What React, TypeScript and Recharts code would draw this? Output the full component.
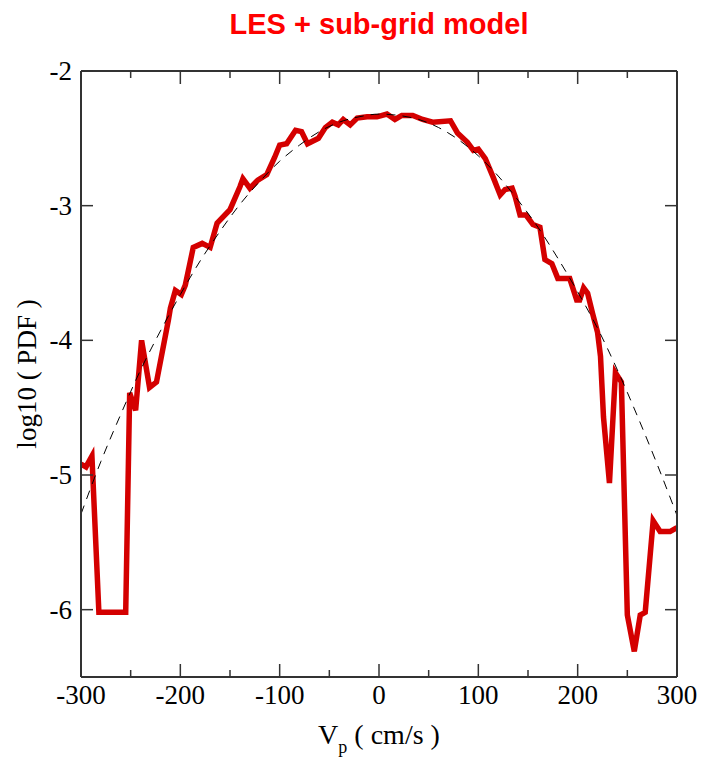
import { Line, LineChart, XAxis, YAxis } from 'recharts';

// simulated PDF (red)
const velocity = [
    -300, -295, -289, -282, -258, -255, -251, -245, -239, -231, -224, -212, -210, -205, -199, -195,
    -187, -178, -170, -163, -150, -140, -137, -130, -122, -113, -105, -100, -93, -84, -78, -72,
    -61, -54, -47, -41, -36, -29, -22, -12, -2, 8, 16, 23, 34, 44, 54, 72,
    79, 89, 95, 100, 107, 115, 122, 127, 134, 137, 142, 148, 155, 162, 167, 174,
    180, 192, 199, 202, 206, 210, 215, 220, 223, 226, 232, 238, 244, 250, 257, 263,
    268, 276, 283, 293, 300,
];
const logPdf = [
    -4.92, -4.94, -4.86, -6.02, -6.02, -6.02, -4.39, -4.52, -4.0, -4.35, -4.31, -3.85, -3.76, -3.63, -3.66, -3.59,
    -3.31, -3.28, -3.31, -3.13, -3.03, -2.86, -2.8, -2.87, -2.81, -2.77, -2.64, -2.55, -2.54, -2.44, -2.45, -2.54,
    -2.5, -2.42, -2.38, -2.4, -2.36, -2.4, -2.35, -2.34, -2.34, -2.32, -2.36, -2.33, -2.33, -2.36, -2.38, -2.37,
    -2.46, -2.53, -2.59, -2.58, -2.65, -2.79, -2.92, -2.88, -2.87, -2.93, -3.07, -3.07, -3.14, -3.16, -3.4, -3.43,
    -3.54, -3.54, -3.7, -3.7, -3.61, -3.65, -3.8, -3.94, -4.12, -4.57, -5.06, -4.24, -4.31, -6.04, -6.31, -6.04,
    -6.02, -5.34, -5.42, -5.42, -5.39,
];

// fitted curve (dashed)
const fitVelocity = [
    -300, -280, -260, -240, -220, -200, -180, -160, -140, -120, -100, -80, -60, -40, -20, 0,
    20, 40, 60, 80, 100, 120, 140, 160, 180, 200, 220, 240, 260, 280, 300,
];
const fitLogPdf = [
    -5.29, -4.9, -4.55, -4.22, -3.93, -3.66, -3.41, -3.19, -2.99, -2.82, -2.67, -2.55, -2.45, -2.38, -2.34, -2.32,
    -2.33, -2.36, -2.42, -2.51, -2.63, -2.78, -2.96, -3.16, -3.39, -3.64, -3.91, -4.22, -4.56, -4.92, -5.3,
];

const xTicks = [-300, -250, -200, -150, -100, -50, 0, 50, 100, 150, 200, 250, 300];
const yTicks = [-6, -5, -4, -3, -2];

const simData = velocity.map((v, i) => ({ v, pdf: logPdf[i] }));
const fitData = fitVelocity.map((v, i) => ({ v, pdf: fitLogPdf[i] }));

const SERIF = '"Liberation Serif", "Times New Roman", serif';
const AXIS = '#333';

function BottomTick(props: any) {
    const { x, y, payload } = props;
    const major = payload.value % 100 === 0;
    return (
        <g>
            <line x1={x} y1={y} x2={x} y2={y - (major ? 13 : 7)} stroke={AXIS} strokeWidth={1.5} />
            {major && (
                <text x={x} y={y + 27} textAnchor="middle" fontFamily={SERIF} fontSize={27} fill="#000">
                    {payload.value}
                </text>
            )}
        </g>
    );
}

function TopTick(props: any) {
    const { x, y, payload } = props;
    const major = payload.value % 100 === 0;
    return <line x1={x} y1={y} x2={x} y2={y + (major ? 13 : 7)} stroke={AXIS} strokeWidth={1.5} />;
}

function LeftTick(props: any) {
    const { x, y, payload } = props;
    return (
        <g>
            <line x1={x} y1={y} x2={x + 12} y2={y} stroke={AXIS} strokeWidth={1.5} />
            <text x={x - 9} y={y + 9} textAnchor="end" fontFamily={SERIF} fontSize={27} fill="#000">
                {payload.value}
            </text>
        </g>
    );
}

function RightTick(props: any) {
    const { x, y } = props;
    return <line x1={x} y1={y} x2={x - 12} y2={y} stroke={AXIS} strokeWidth={1.5} />;
}

export default function App() {
    return (
        <div style={{ position: 'absolute', left: 0, top: 0, width: 703, height: 759, background: '#fff' }}>
            <div
                style={{
                    position: 'absolute',
                    left: 81,
                    top: 8,
                    width: 596,
                    textAlign: 'center',
                    color: '#ff0000',
                    fontFamily: '"Liberation Sans", Arial, sans-serif',
                    fontWeight: 700,
                    fontSize: 29,
                    lineHeight: '32px',
                }}
            >
                LES + sub-grid model
            </div>
            <LineChart width={703} height={759} margin={{ top: 70, right: 25, bottom: 0, left: 0 }}>
                <XAxis
                    xAxisId="bottom"
                    dataKey="v"
                    type="number"
                    domain={[-300, 300]}
                    ticks={xTicks}
                    interval={0}
                    height={82}
                    tickSize={0}
                    tickMargin={0}
                    tickLine={false}
                    tick={<BottomTick />}
                    stroke={AXIS}
                    strokeWidth={2}
                    allowDataOverflow
                    label={({ viewBox }: any) => (
                        <text
                            x={viewBox.x + viewBox.width / 2}
                            y={viewBox.y + 67}
                            textAnchor="middle"
                            fontFamily={SERIF}
                            fontSize={28}
                            fill="#000"
                        >
                            V
                            <tspan fontSize={18} dy={9}>p</tspan>
                            <tspan dy={-9}> ( cm/s )</tspan>
                        </text>
                    )}
                />
                <XAxis
                    xAxisId="top"
                    orientation="top"
                    dataKey="v"
                    type="number"
                    domain={[-300, 300]}
                    ticks={xTicks}
                    interval={0}
                    height={1}
                    tickSize={0}
                    tickMargin={0}
                    tickLine={false}
                    tick={<TopTick />}
                    stroke={AXIS}
                    strokeWidth={2}
                    allowDataOverflow
                />
                <YAxis
                    yAxisId="left"
                    type="number"
                    domain={[-6.5, -2]}
                    ticks={yTicks}
                    interval={0}
                    width={81}
                    tickSize={0}
                    tickMargin={0}
                    tickLine={false}
                    tick={<LeftTick />}
                    stroke={AXIS}
                    strokeWidth={2}
                    allowDataOverflow
                    label={({ viewBox }: any) => (
                        <text
                            x={36}
                            y={viewBox.y + viewBox.height / 2}
                            textAnchor="middle"
                            transform={`rotate(-90, 36, ${viewBox.y + viewBox.height / 2})`}
                            fontFamily={SERIF}
                            fontSize={27}
                            fill="#000"
                        >
                            log10 ( PDF )
                        </text>
                    )}
                />
                <YAxis
                    yAxisId="right"
                    orientation="right"
                    type="number"
                    domain={[-6.5, -2]}
                    ticks={yTicks}
                    interval={0}
                    width={1}
                    tickSize={0}
                    tickMargin={0}
                    tickLine={false}
                    tick={<RightTick />}
                    stroke={AXIS}
                    strokeWidth={2}
                    allowDataOverflow
                />
                <Line
                    xAxisId="bottom"
                    yAxisId="left"
                    data={simData}
                    dataKey="pdf"
                    type="linear"
                    stroke="#d40000"
                    strokeWidth={5.5}
                    strokeLinejoin="miter"
                    dot={false}
                    isAnimationActive={false}
                />
                <Line
                    xAxisId="bottom"
                    yAxisId="left"
                    data={fitData}
                    dataKey="pdf"
                    type="monotone"
                    stroke="#000"
                    strokeWidth={1}
                    strokeDasharray="9 7"
                    dot={false}
                    isAnimationActive={false}
                />
            </LineChart>
        </div>
    );
}
